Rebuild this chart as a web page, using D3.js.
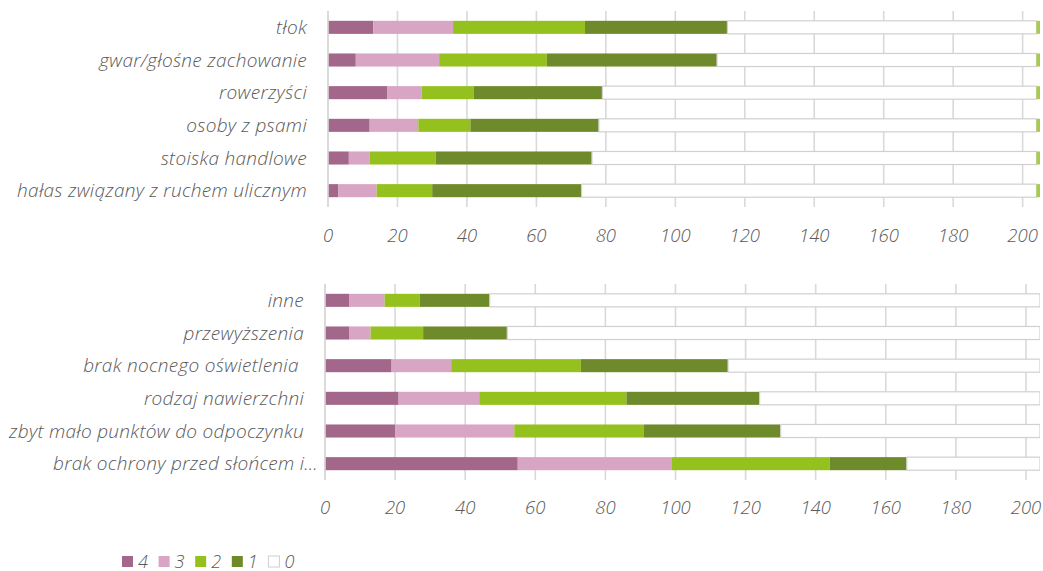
<!DOCTYPE html>
<html>
<head>
<meta charset="utf-8">
<script src="https://cdn.jsdelivr.net/npm/d3@7"></script>
<style>
  html, body { margin: 0; padding: 0; background: #fff; }
  svg { display: block; }
  text { font-family: "Open Sans", Lato, sans-serif; font-style: italic; font-weight: 300; fill: #595959; }
</style>
</head>
<body>
<svg id="chart" width="1043" height="571"></svg>
<script>
// Ratings 4..0 (number of answers) for each nuisance
const seriesKeys = ["4", "3", "2", "1", "0"];
const seriesColors = ["#a4678c", "#d8a5c4", "#95c11f", "#6e8a2b", "#ffffff"];

// Upper panel
const categoriesTop = ["tłok", "gwar/głośne zachowanie", "rowerzyści", "osoby z psami", "stoiska handlowe", "hałas związany z ruchem ulicznym"];
const top4 = [13, 8, 17, 12, 6, 3];
const top3 = [23, 24, 10, 14, 6, 11];
const top2 = [38, 31, 15, 15, 19, 16];
const top1 = [41, 49, 37, 37, 45, 43];
const top0 = [89, 92, 125, 126, 128, 131];
const topNoAnswer = [1, 1, 1, 1, 1, 1];

// Lower panel
const categoriesBottom = ["inne", "przewyższenia", "brak nocnego oświetlenia ", "rodzaj nawierzchni", "zbyt mało punktów do odpoczynku", "brak ochrony przed słońcem i…"];
const bottom4 = [7, 7, 19, 21, 20, 55];
const bottom3 = [10, 6, 17, 23, 34, 44];
const bottom2 = [10, 15, 37, 42, 37, 45];
const bottom1 = [20, 24, 42, 38, 39, 22];
const bottom0 = [157, 152, 89, 80, 74, 38];

const tickValues = [0, 20, 40, 60, 80, 100, 120, 140, 160, 180, 200];

const svg = d3.select("#chart");

function panel(cfg) {
  const g = svg.append("g");
  const x = d3.scaleLinear().domain([0, cfg.max]).range([cfg.x0, cfg.x1]);
  const y = d3.scaleBand().domain(cfg.categories).range([cfg.y0, cfg.y1]).paddingInner(0.6).paddingOuter(0.3);

  // clip to plot area
  const clipId = "clip" + cfg.id;
  svg.append("clipPath").attr("id", clipId)
    .append("rect").attr("x", cfg.x0).attr("y", cfg.y0 - 2).attr("width", cfg.x1 - cfg.x0).attr("height", cfg.y1 - cfg.y0 + 4);

  // vertical gridlines
  g.append("g").selectAll("line").data(tickValues).join("line")
    .attr("x1", d => x(d)).attr("x2", d => x(d))
    .attr("y1", cfg.y0).attr("y2", cfg.y1)
    .attr("stroke", "#d9d9d9").attr("stroke-width", 1.6);

  // stacked bars
  const rows = cfg.categories.map((c, i) => {
    const r = { cat: c };
    cfg.series.forEach((s, k) => r["s" + k] = s[i]);
    return r;
  });
  const keys = cfg.series.map((s, k) => "s" + k);
  const stacked = d3.stack().keys(keys)(rows);
  const bars = g.append("g").attr("clip-path", `url(#${clipId})`);
  stacked.forEach((layer, k) => {
    bars.append("g").selectAll("rect").data(layer).join("rect")
      .attr("x", d => x(d[0]))
      .attr("y", d => y(d.data.cat))
      .attr("width", d => x(d[1]) - x(d[0]))
      .attr("height", y.bandwidth())
      .attr("fill", cfg.colors[k])
      .attr("stroke", cfg.colors[k] === "#ffffff" ? "#d0d0d0" : "none")
      .attr("stroke-width", 1.2);
  });

  // category axis line
  g.append("line").attr("x1", cfg.x0).attr("x2", cfg.x0).attr("y1", cfg.y0).attr("y2", cfg.y1)
    .attr("stroke", "#d9d9d9").attr("stroke-width", 1.6);

  // category labels
  g.append("g").selectAll("text").data(cfg.categories).join("text")
    .attr("x", d => d.endsWith("…") ? cfg.labelX + 14 : cfg.labelX)
    .attr("y", d => y(d) + y.bandwidth() / 2)
    .attr("dy", "0.35em")
    .attr("text-anchor", "end")
    .attr("font-size", 19)
    .attr("letter-spacing", 0.3)
    .style("white-space", "pre")
    .text(d => d);

  // value tick labels
  g.append("g").selectAll("text").data(tickValues).join("text")
    .attr("x", d => x(d))
    .attr("y", cfg.tickY)
    .attr("text-anchor", "middle")
    .attr("font-size", 18.5)
    .text(d => d);
}

panel({
  id: "Top", categories: categoriesTop,
  series: [top4, top3, top2, top1, top0, topNoAnswer],
  colors: [...seriesColors, "#a9cc48"],
  max: 205, x0: 328, x1: 1040, y0: 11, y1: 207, labelX: 307, tickY: 242
});

panel({
  id: "Bottom", categories: categoriesBottom,
  series: [bottom4, bottom3, bottom2, bottom1, bottom0],
  colors: seriesColors,
  max: 204, x0: 325, x1: 1040, y0: 284, y1: 480, labelX: 304, tickY: 514
});

// legend
const legend = svg.append("g").attr("transform", "translate(122,556)");
const item = legend.selectAll("g").data(seriesKeys).join("g")
  .attr("transform", (d, i) => `translate(${i * 36.6},0)`);
item.append("rect").attr("width", 11).attr("height", 11)
  .attr("fill", (d, i) => seriesColors[i])
  .attr("stroke", (d, i) => seriesColors[i] === "#ffffff" ? "#cfcfcf" : "none");
item.append("text").attr("x", 16).attr("y", 11.5).attr("font-size", 18).text(d => d);
</script>
</body>
</html>
